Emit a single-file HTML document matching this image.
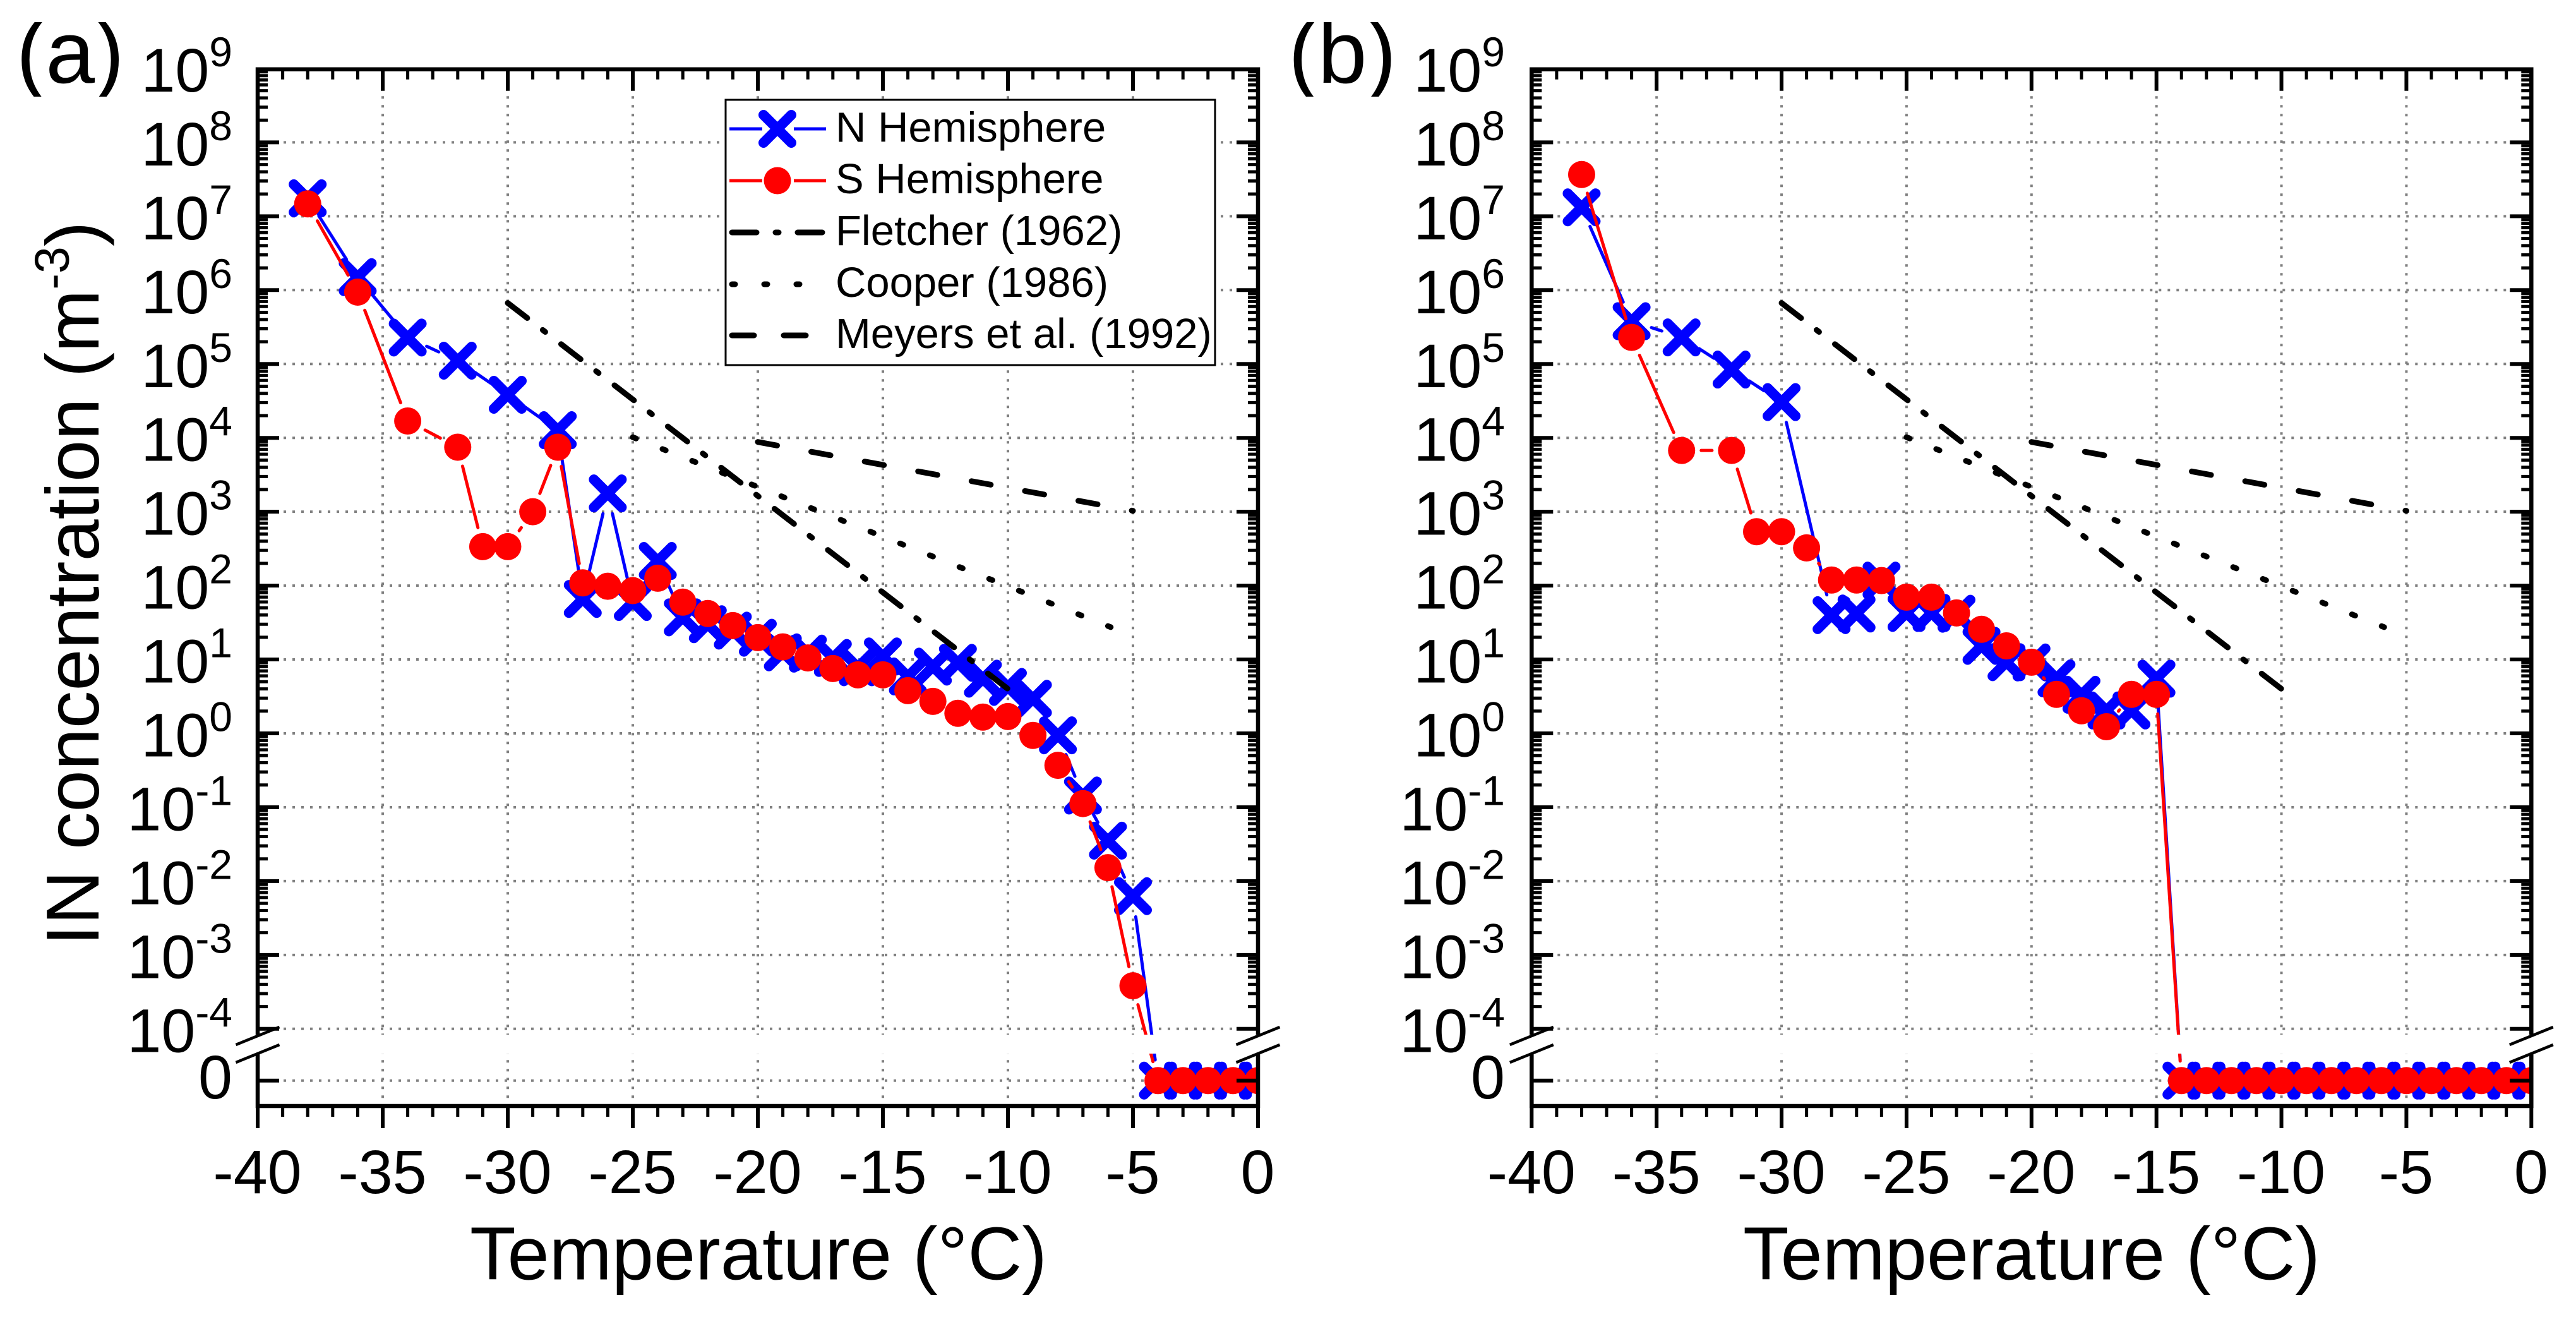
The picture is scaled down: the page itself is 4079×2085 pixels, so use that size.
<!DOCTYPE html>
<html lang="en">
<head>
<meta charset="utf-8">
<title>IN concentration vs temperature</title>
<style>
html,body{margin:0;padding:0;background:#fff;}
svg{display:block;}
text{font-family:"Liberation Sans",sans-serif;fill:#000;}
</style>
</head>
<body>
<svg id="figure" xmlns="http://www.w3.org/2000/svg" width="4079" height="2085" viewBox="0 0 4079 2085">
  <defs>
    <clipPath id="panel-label-clip"><rect x="0" y="35" width="4079" height="118"/></clipPath>
  </defs>
  <rect x="0" y="0" width="4079" height="2085" fill="#fff"/>
  <g id="panel-a-root"></g>
  <g id="panel-b-root"></g>

  <g clip-path="url(#panel-label-clip)">
    <text x="25.6" y="131" font-size="140">(a)</text>
    <text x="2040" y="131" font-size="140">(b)</text>
  </g>
  <text transform="translate(156,1497) rotate(-90)" font-size="119">IN concentration (m<tspan font-size="77" dy="-47">-3</tspan><tspan dy="47">)</tspan></text>
  <text x="744" y="2025.6" font-size="119">Temperature (°C)</text>
  <text x="2760" y="2025.6" font-size="119">Temperature (°C)</text>

  <g>
    <rect x="1149" y="158" width="775" height="420" fill="#fff" stroke="#000" stroke-width="3"/>
    <g>
      <path d="M1155 204H1207M1257 204H1308" stroke="#0000ff" stroke-width="5" fill="none"/>
      <path d="M1209 182L1253 226M1253 182L1209 226" stroke="#0000ff" stroke-width="16" stroke-linecap="round" fill="none"/>
      <text x="1323" y="224.5" font-size="67">N Hemisphere</text>
    </g>
    <g>
      <path d="M1155 286H1207M1257 286H1308" stroke="#ff0000" stroke-width="5" fill="none"/>
      <circle cx="1231" cy="286" r="21.5" fill="#ff0000"/>
      <text x="1323" y="306" font-size="67">S Hemisphere</text>
    </g>
    <g>
      <path d="M1159 368H1306" stroke="#000" stroke-width="9" stroke-linecap="round" stroke-dasharray="39 30 5 30" fill="none"/>
      <text x="1323" y="388" font-size="67">Fletcher (1962)</text>
    </g>
    <g>
      <path d="M1159 450H1270" stroke="#000" stroke-width="9" stroke-linecap="round" stroke-dasharray="5 46" fill="none"/>
      <text x="1323" y="470" font-size="67">Cooper (1986)</text>
    </g>
    <g>
      <path d="M1159 531H1277" stroke="#000" stroke-width="9" stroke-linecap="round" stroke-dasharray="35 47" fill="none"/>
      <text x="1323" y="551" font-size="67">Meyers et al. (1992)</text>
    </g>
  </g>
</svg>

<script>
// ---- Chart data ----
const xTickLabels = [-40, -35, -30, -25, -20, -15, -10, -5, 0];
const xMinorTemps = [-39,-38,-37,-36,-34,-33,-32,-31,-29,-28,-27,-26,-24,-23,-22,-21,-19,-18,-17,-16,-14,-13,-12,-11,-9,-8,-7,-6,-4,-3,-2,-1];
const yTickExponents = [9, 8, 7, 6, 5, 4, 3, 2, 1, 0, -1, -2, -3, -4];
const yMinorMultipliers = [2, 3, 4, 5, 6, 7, 8, 9];
const zeroTickLabel = "0";

const tempsNorthA = [-38,-36,-34,-32,-30,-28,-27,-26,-25,-24,-23,-22,-21,-20,-19,-18,-17,-16,-15,-14,-13,-12,-11,-10,-9,-8,-7,-6,-5,-4,-3,-2,-1,0];
const northA = [1.75e7,1.5e6,2.28e5,1.11e5,3.83e4,1.27e4,66,1770,60,216,37.2,30,24.6,19.7,12.5,12,10.5,7.85,11,5.9,8,9,5.5,4.25,2.94,0.94,0.144,0.0353,0.00625,0,0,0,0,0];

const tempsSouthA = [-38,-36,-34,-32,-31,-30,-29,-28,-27,-26,-25,-24,-23,-22,-21,-20,-19,-18,-17,-16,-15,-14,-13,-12,-11,-10,-9,-8,-7,-6,-5,-4,-3,-2,-1,0];
const southA = [1.47e7,9.4e5,1.69e4,7480,337,337,1000,7480,109,98,85.5,126,59.7,41.9,28.8,19.8,14.8,10.5,7.55,6.2,6.2,3.79,2.71,1.87,1.66,1.69,0.938,0.369,0.112,0.0152,0.000383,0,0,0,0,0];

const tempsNorthB = [-38,-36,-34,-32,-30,-28,-27,-26,-25,-24,-23,-22,-21,-20,-19,-18,-17,-16,-15,-14,-13,-12,-11,-10,-9,-8,-7,-6,-5,-4,-3,-2,-1,0];
const northB = [1.32e7,3.8e5,2.29e5,8.41e4,3.05e4,39.8,41.9,117,42.7,42.7,41.6,15.3,9.18,9.12,5.56,3.33,2.04,2.04,5.5,0,0,0,0,0,0,0,0,0,0,0,0,0,0,0];

const tempsSouthB = [-38,-36,-34,-32,-31,-30,-29,-28,-27,-26,-25,-24,-23,-22,-21,-20,-19,-18,-17,-16,-15,-14,-13,-12,-11,-10,-9,-8,-7,-6,-5,-4,-3,-2,-1,0];
const southB = [3.67e7,2.29e5,6760,6760,537,537,324,119,119,117,69.8,69.8,42.7,25.6,15.3,9.18,3.37,2.02,1.23,3.37,3.37,0,0,0,0,0,0,0,0,0,0,0,0,0,0,0,0];

const fletcherTemps = [-30, -10];
const fletcherValues = [6.7e5, 4];
const cooperTemps = [-25, -5.89];
const cooperValues = [1.02e4, 27.4];
const meyersTemps = [-20, -5];
const meyersValues = [8800, 1030];

// ---- Layout ----
const SVG_NS = "http://www.w3.org/2000/svg";
const yAxisTop = 109.7, yAxisBottom = 1751, yZero = 1710.7;
const yDecadeZero = 1161, decadeHeight = 116.95;

function yOf(value) {
  if (value === 0) return yZero;
  return yDecadeZero - decadeHeight * Math.log10(value);
}
function mk(parent, tag, attrs) {
  const el = document.createElementNS(SVG_NS, tag);
  for (const k in attrs) el.setAttribute(k, attrs[k]);
  parent.appendChild(el);
  return el;
}

function drawSeries(root, xOf, temps, values, color, marker, trim, seriesName) {
  const g = mk(root, "g", {});
  
  
  let d = "";
  for (let i = 0; i < temps.length - 1; i++) {
    const x1 = xOf(temps[i]), y1 = yOf(values[i]);
    const x2 = xOf(temps[i + 1]), y2 = yOf(values[i + 1]);
    const len = Math.hypot(x2 - x1, y2 - y1);
    if (len <= 2 * trim) continue;
    const ux = (x2 - x1) / len, uy = (y2 - y1) / len;
    d += "M" + (x1 + ux * trim).toFixed(1) + " " + (y1 + uy * trim).toFixed(1) +
         "L" + (x2 - ux * trim).toFixed(1) + " " + (y2 - uy * trim).toFixed(1);
  }
  const line = mk(g, "path", { d: d, stroke: color, "stroke-width": 5, "stroke-linecap": "round", fill: "none" });
  
  
  for (let i = 0; i < temps.length; i++) {
    const cx = xOf(temps[i]), cy = yOf(values[i]);
    let m;
    if (marker === "x") {
      const a = 22;
      m = mk(g, "path", {
        d: "M" + (cx - a) + " " + (cy - a) + "L" + (cx + a) + " " + (cy + a) +
           "M" + (cx + a) + " " + (cy - a) + "L" + (cx - a) + " " + (cy + a),
        stroke: color, "stroke-width": 16, "stroke-linecap": "round", fill: "none"
      });
    } else {
      m = mk(g, "circle", { cx: cx, cy: cy, r: 21.5, fill: color });
    }
    
    
  }
}

function drawRefLine(root, xOf, temps, values, dash, lineName) {
  const l = mk(root, "line", {
    x1: xOf(temps[0]), y1: yOf(values[0]), x2: xOf(temps[1]), y2: yOf(values[1]),
    stroke: "#000", "stroke-width": 9, "stroke-linecap": "round", "stroke-dasharray": dash
  });
  
  
}

function drawPanel(rootId, prefix, x0, perDeg, labelRight, nT, nV, sT, sV) {
  const root = document.getElementById(rootId);
  const xOf = t => x0 + perDeg * (t + 40);
  const xL = xOf(-40), xR = xOf(0);

  // grid
  const grid = mk(root, "g", { stroke: "#808080", "stroke-width": 4, "stroke-dasharray": "4 10", fill: "none" });
  
  
  xTickLabels.forEach(t => {
    if (t === -40 || t === 0) return;
    const gl = mk(grid, "line", { x1: xOf(t), y1: yAxisBottom + 1.3, x2: xOf(t), y2: yAxisTop });
    
    
  });
  yTickExponents.forEach(e => {
    if (e === 9) return;
    const y = yDecadeZero - decadeHeight * e;
    const gl = mk(grid, "line", { x1: xL - 1, y1: y, x2: xR, y2: y });
    
    
  });
  const zg = mk(grid, "line", { x1: xL - 1, y1: yZero, x2: xR, y2: yZero });
  
  

  // data (clipped to plot frame)
  const clipId = prefix + "-clip";
  const defs = mk(root, "defs", {});
  const clip = mk(defs, "clipPath", { id: clipId });
  mk(clip, "rect", { x: xL, y: yAxisTop, width: xR - xL, height: yAxisBottom - yAxisTop });
  const dataG = mk(root, "g", { "clip-path": "url(#" + clipId + ")" });
  
  
  drawSeries(dataG, xOf, nT, nV, "#0000ff", "x", 33, prefix + "-n-hemisphere");
  drawSeries(dataG, xOf, sT, sV, "#ff0000", "o", 31, prefix + "-s-hemisphere");
  drawRefLine(dataG, xOf, fletcherTemps, fletcherValues, "39 31 5 31.7", prefix + "-fletcher-line");
  drawRefLine(dataG, xOf, cooperTemps, cooperValues, "5.5 45.1", prefix + "-cooper-line");
  drawRefLine(dataG, xOf, meyersTemps, meyersValues, "31 55", prefix + "-meyers-line");

  // axes
  const axes = mk(root, "g", { stroke: "#000", fill: "none" });
  
  
  let frame = "M" + xL + " " + yAxisBottom + "V" + yAxisTop + "H" + xR + "V" + yAxisBottom + "H" + xL + "Z";
  const fr = mk(axes, "path", { d: frame, "stroke-width": 6.5, "stroke-linecap": "square" });
  
  

  let major = "", minor = "";
  xTickLabels.forEach(t => {
    const x = xOf(t);
    major += "M" + x + " " + yAxisBottom + "V" + (yAxisBottom + 35);
    major += "M" + x + " " + yAxisTop + "V" + (yAxisTop + 34);
  });
  xMinorTemps.forEach(t => {
    const x = xOf(t);
    minor += "M" + x + " " + yAxisBottom + "V" + (yAxisBottom + 17);
    minor += "M" + x + " " + yAxisTop + "V" + (yAxisTop + 16);
  });
  yTickExponents.forEach(e => {
    const y = yDecadeZero - decadeHeight * e;
    if (e !== 9) {
      major += "M" + xL + " " + y + "H" + (xL + 34) + "M" + xR + " " + y + "H" + (xR - 34);
    }
    if (e !== -4) {
      yMinorMultipliers.forEach(mult => {
        const ym = yDecadeZero - decadeHeight * (e - 1 + Math.log10(mult));
        minor += "M" + xL + " " + ym + "H" + (xL + 16) + "M" + xR + " " + ym + "H" + (xR - 16);
      });
    }
  });
  major += "M" + xL + " " + yZero + "H" + (xL + 34) + "M" + xR + " " + yZero + "H" + (xR - 34);
  const mj = mk(axes, "path", { d: major, "stroke-width": 6 });
  
  
  const mn = mk(axes, "path", { d: minor, "stroke-width": 5 });
  
  

  // axis break
  const band = mk(root, "rect", { x: xL - 6, y: 1638, width: xR - xL + 12, height: 30, fill: "#fff" });
  
  
  [xL, xR].forEach(cx => {
    [1640, 1668].forEach(cy => {
      const s = mk(root, "line", {
        x1: cx - 34.5, y1: cy + 14, x2: cx + 34.5, y2: cy - 14, stroke: "#000", "stroke-width": 4.5
      });
      
      
    });
  });

  // tick labels
  xTickLabels.forEach(t => {
    const tx = mk(root, "text", { x: xOf(t) - 0.5, y: 1889, "font-size": 97, "text-anchor": "middle" });
    
    
    tx.textContent = String(t);
  });
  yTickExponents.forEach(e => {
    const y = yDecadeZero - decadeHeight * e;
    const tx = mk(root, "text", { x: labelRight, y: y + 36.5, "font-size": 97, "text-anchor": "end" });
    
    
    const base = mk(tx, "tspan", {});
    base.textContent = "10";
    const sup = mk(tx, "tspan", { "font-size": 66, dy: -40 });
    sup.textContent = String(e);
  });
  const z = mk(root, "text", { x: labelRight, y: 1739, "font-size": 97, "text-anchor": "end" });
  
  
  z.textContent = zeroTickLabel;
}

drawPanel("panel-a-root", "panel-a", 408, 39.6, 368, tempsNorthA, northA, tempsSouthA, southA);
drawPanel("panel-b-root", "panel-b", 2425.3, 39.575, 2383, tempsNorthB, northB, tempsSouthB, southB);
</script>
</body>
</html>
